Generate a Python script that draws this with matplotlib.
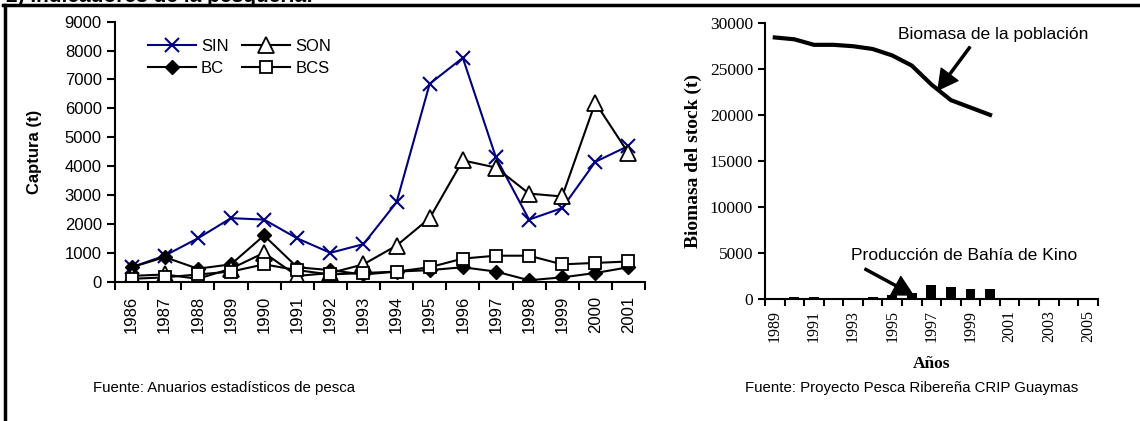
import matplotlib
matplotlib.use("Agg")
import matplotlib.pyplot as plt
from matplotlib.lines import Line2D
import numpy as np

# left panel: catches by state
years_l = [str(y) for y in range(1986, 2002)]
sin = [500, 900, 1500, 2200, 2150, 1500, 1000, 1300, 2750, 6850, 7750, 4300, 2150, 2550, 4150, 4700]
son = [200, 250, 100, 450, 1000, 200, 300, 600, 1250, 2200, 4200, 3950, 3050, 2950, 6200, 4450]
bc = [500, 850, 450, 600, 1600, 500, 400, 250, 350, 400, 500, 350, 50, 150, 300, 500]
bcs = [100, 150, 250, 350, 600, 400, 250, 300, 350, 500, 800, 900, 900, 600, 650, 700]

# right panel: stock biomass and Bahia de Kino production
years_r = list(range(1989, 2006))
biomasa = [28400, 28200, 27600, 27600, 27450, 27150, 26450, 25350, 23300, 21600, 20800, 20000]
produccion = [30, 200, 200, 30, 30, 200, 450, 650, 1500, 1300, 1100, 1100, 0, 0, 0, 0, 0]

sans = "Liberation Sans"
serif = "Liberation Serif"
plt.rcParams["font.family"] = sans

fig = plt.figure(figsize=(11.4, 4.21), dpi=100)

# ---- left chart
ax1 = fig.add_axes([115/1140, 1-281.7/421, 530/1140, 260/421])
x = np.arange(len(years_l))
navy = "#000080"
ax1.plot(x, sin, color=navy, lw=1.5, marker="x", ms=10, mew=1.5, label="SIN")
ax1.plot(x, bc, color="black", lw=1.5, marker="D", ms=7, mfc="black", label="BC")
ax1.plot(x, son, color="black", lw=1.5, marker="^", ms=11, mfc="white", mew=1.3, label="SON")
ax1.plot(x, bcs, color="black", lw=1.5, marker="s", ms=8, mfc="white", mew=1.3, label="BCS")
ax1.set_xlim(-0.5, len(years_l)-0.5)
ax1.set_ylim(0, 9000)
ax1.set_yticks(range(0, 9001, 1000))
ax1.set_xticks(x)
ax1.set_xticklabels(years_l, rotation=90, fontsize=12)
ax1.set_xticks(np.arange(-0.5, len(years_l)), minor=True)
ax1.tick_params(axis="x", which="major", length=0, pad=10)
ax1.tick_params(axis="x", which="minor", length=6, width=1.5, direction="out")
ax1.tick_params(axis="y", labelsize=12, length=6, width=1.5, direction="out")
for s in ["top", "right"]:
    ax1.spines[s].set_visible(False)
for s in ["left", "bottom"]:
    ax1.spines[s].set_linewidth(1.5)
ax1.set_ylabel("Captura (t)", fontsize=12, fontweight="bold", labelpad=16)
ax1.legend(ncol=2, frameon=False, fontsize=12, loc="upper left",
           bbox_to_anchor=(0.049, 0.96), handlelength=2.9, handletextpad=0.3,
           columnspacing=0.8, labelspacing=0.45, borderaxespad=0)

# ---- right chart
ax2 = fig.add_axes([765/1140, 1-299.3/421, 332.7/1140, 276.6/421])
xr = np.arange(len(years_r))
ax2.bar(xr, produccion, width=0.5, color="black")
ax2.plot(xr[:len(biomasa)], biomasa, color="black", lw=3)
ax2.set_xlim(-0.5, len(years_r)-0.5)
ax2.set_ylim(0, 30000)
ax2.set_yticks(range(0, 30001, 5000))
ax2.set_xticks(xr[::2])
ax2.set_xticklabels([str(y) for y in years_r[::2]], rotation=90, fontsize=11.5, family=serif)
ax2.set_xticks(np.arange(-0.5, len(years_r)), minor=True)
ax2.tick_params(axis="x", which="major", length=0, pad=8)
ax2.tick_params(axis="x", which="minor", length=5, width=1.5, direction="out")
ax2.tick_params(axis="y", labelsize=12.5, length=5, width=1.5, direction="out")
for lab in ax2.get_yticklabels():
    lab.set_family(serif)
for s in ["top", "right"]:
    ax2.spines[s].set_visible(False)
for s in ["left", "bottom"]:
    ax2.spines[s].set_linewidth(1.5)
ax2.set_ylabel("Biomasa del stock (t)", fontsize=14, fontweight="bold", family=serif, labelpad=6)
ax2.set_xlabel("Años", fontsize=12.5, fontweight="bold", family=serif, labelpad=10)

arrow = dict(facecolor="black", edgecolor="black", width=1.5, headwidth=15, headlength=14, shrink=0)
ax2.text(11.16, 28750, "Biomasa de la población", fontsize=12.6, ha="center", va="center")
ax2.annotate("", xy=(8.34, 22700), xytext=(9.97, 27360), arrowprops=arrow)
ax2.text(9.67, 4800, "Producción de Bahía de Kino", fontsize=12.6, ha="center", va="center")
ax2.annotate("", xy=(7.06, 470), xytext=(4.61, 3290), arrowprops=arrow)

# sources
fig.text(93/1140, 1-388/421, "Fuente: Anuarios estadísticos de pesca", fontsize=10.8, va="center")
fig.text(745/1140, 1-388/421, "Fuente: Proyecto Pesca Ribereña CRIP Guaymas", fontsize=10.8, va="center")

# frame and cut title
fig.add_artist(Line2D([3/1140, 1], [1-5/421, 1-5/421], color="black", lw=2.5, transform=fig.transFigure))
fig.add_artist(Line2D([5/1140, 5/1140], [0, 1-5/421], color="black", lw=2.5, transform=fig.transFigure))
fig.text(6/1140, 1-1.5/421, "2) Indicadores de la pesquería:", fontsize=15, fontweight="bold", va="baseline")

fig.savefig("out.png", dpi=100)
